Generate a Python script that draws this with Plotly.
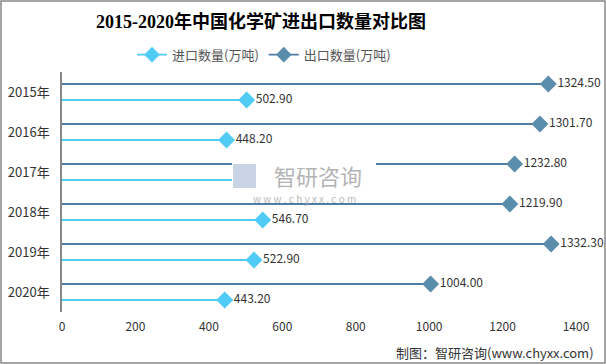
import plotly.graph_objects as go

years = ["2015年", "2016年", "2017年", "2018年", "2019年", "2020年"]
imports = [502.90, 448.20, 490.00, 546.70, 522.90, 443.20]
exports = [1324.50, 1301.70, 1232.80, 1219.90, 1332.30, 1004.00]
x_ticks = [0, 200, 400, 600, 800, 1000, 1200, 1400]

imp_color = "#4FCBF6"
exp_color = "#5A8CAB"
exp_line = "#4F7CA4"
offset = 0.2

fig = go.Figure()

def add_series(values, sign, line_color, marker_color, name):
    ys = [i + sign * offset for i in range(len(values))]
    lx, ly = [], []
    for v, y in zip(values, ys):
        lx += [0, v, None]
        ly += [y, y, None]
    fig.add_trace(go.Scatter(x=lx, y=ly, mode="lines",
                             line=dict(color=line_color, width=1.8),
                             showlegend=False, hoverinfo="skip"))
    fig.add_trace(go.Scatter(x=values, y=ys, mode="markers+text",
                             marker=dict(symbol="diamond", size=13, color=marker_color),
                             text=[f"{v:.2f}" for v in values],
                             textposition="middle right",
                             textfont=dict(size=12, color="#333333",
                                           family="Noto Sans CJK SC, Open Sans"),
                             showlegend=False, cliponaxis=False))
    fig.add_trace(go.Scatter(x=[None], y=[None], mode="lines+markers", name=name,
                             line=dict(color=line_color, width=1.8),
                             marker=dict(symbol="diamond", size=12, color=marker_color)))

add_series(imports, +1, imp_color, imp_color, "进口数量(万吨)")
add_series(exports, -1, exp_line, exp_color, "出口数量(万吨)")

fig.update_layout(
    width=606, height=364,
    margin=dict(l=62, r=30, t=72, b=52, autoexpand=False),
    paper_bgcolor="white", plot_bgcolor="white",
    title=dict(text="<b>2015-2020年中国化学矿进出口数量对比图</b>",
               x=261 / 606, xanchor="center", y=1 - 22 / 364, yanchor="middle",
               font=dict(size=18, color="#000000",
                         family="Liberation Serif, Noto Sans CJK SC")),
    legend=dict(orientation="h", x=(264 - 62) / 514, xanchor="center", y=1.072,
                yanchor="middle",
                font=dict(size=13, color="#555555", family="Noto Sans CJK SC"),
                itemwidth=30, traceorder="normal"),
    font=dict(family="Noto Sans CJK SC", color="#333333"),
    showlegend=True,
)
fig.update_xaxes(range=[0, 1400], tickvals=x_ticks, showgrid=False, zeroline=False,
                 showline=False, ticks="", tickfont=dict(size=12, color="#333333"),
                 automargin=False, ticklabelstandoff=6, fixedrange=True)
fig.update_yaxes(range=[len(years) - 0.5, -0.5], tickvals=list(range(len(years))),
                 ticktext=years, showgrid=False, zeroline=False, showline=True,
                 linecolor="#888888", linewidth=1.5, ticks="",
                 tickfont=dict(size=13, color="#333333"), ticklabelstandoff=8,
                 automargin=False, fixedrange=True)

# watermark (covers part of the plot, as in the reference)
fig.add_shape(type="rect", xref="paper", yref="paper",
              x0=(232 - 62) / 514, x1=(376 - 62) / 514,
              y0=(312 - 201) / 240, y1=(312 - 157) / 240,
              fillcolor="white", line=dict(width=0), layer="above")
fig.add_shape(type="rect", xref="paper", yref="paper",
              x0=(233 - 62) / 514, x1=(256 - 62) / 514,
              y0=(312 - 188) / 240, y1=(312 - 164) / 240,
              fillcolor="#C9D5E6", line=dict(width=0), layer="above")
fig.add_annotation(text="智研咨询", xref="paper", yref="paper",
                   x=(318 - 62) / 514, y=(312 - 175) / 240, showarrow=False,
                   font=dict(size=22, color="#B4B4B4", family="Noto Sans CJK SC"))
fig.add_annotation(text="w w w . c h y x x . c o m", xref="paper", yref="paper",
                   x=(304 - 62) / 514, y=(312 - 198) / 240, showarrow=False,
                   font=dict(size=10, color="#BBBBBB", family="Noto Sans CJK SC"))

# source note
fig.add_annotation(text="制图：智研咨询(www.chyxx.com)", xref="paper", yref="paper",
                   x=(596 - 62) / 514, y=-(352 - 312) / 240, xanchor="right",
                   yanchor="middle", showarrow=False,
                   font=dict(size=13, color="#333333", family="Noto Sans CJK SC"))

# frame
fig.add_shape(type="rect", xref="paper", yref="paper",
              x0=-61 / 514, x1=1 + 29 / 514, y0=-51 / 240, y1=1 + 71 / 240,
              line=dict(color="#888888", width=1.5), fillcolor="rgba(0,0,0,0)",
              layer="above")

fig.write_html("out.html", config={"displayModeBar": False},
               post_script="document.body.style.margin='0';document.body.style.overflow='hidden';")
